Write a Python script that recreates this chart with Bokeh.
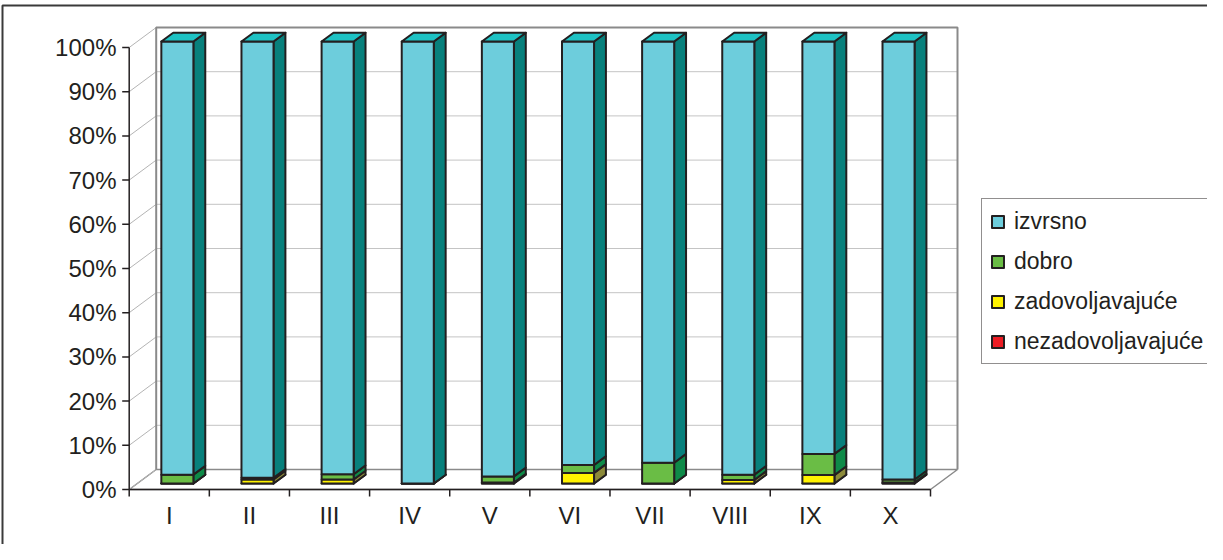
from bokeh.plotting import figure
from bokeh.models import Range1d, Legend, LegendItem
from bokeh.core.properties import value
from bokeh.embed import file_html
from bokeh.resources import INLINE

# ---------------- data ----------------
categories = ["I", "II", "III", "IV", "V", "VI", "VII", "VIII", "IX", "X"]
nezadovoljavajuce = [0.0, 0.0, 0.0, 0.0, 0.0, 0.0, 0.0, 0.0, 0.0, 0.0]
zadovoljavajuce = [0.0, 0.9, 0.9, 0.0, 0.2, 2.4, 0.0, 0.8, 1.9, 0.2]
dobro = [2.0, 0.4, 1.2, 0.0, 1.4, 1.8, 4.7, 1.2, 4.8, 0.7]
izvrsno = [98.0, 98.7, 97.9, 100.0, 98.4, 95.8, 95.3, 98.0, 93.3, 99.1]
y_tick_values = [0, 10, 20, 30, 40, 50, 60, 70, 80, 90, 100]
y_tick_labels = ["0%", "10%", "20%", "30%", "40%", "50%", "60%", "70%", "80%", "90%", "100%"]
series_names = ["nezadovoljavajuće", "zadovoljavajuće", "dobro", "izvrsno"]

# ---------------- styling / layout ----------------
FONT = "Liberation Sans"
TXT = "#231F20"
EDGE = "#231F20"
front_colors = ["#ED1C24", "#FFF200", "#6ABD45", "#6DCDDC"]
side_colors = ["#8E1218", "#8C8A3A", "#0E8A48", "#08807C"]
top_color = "#1EC2C4"

W, H = 1207, 544
# pixel geometry (page coords) of the front axes
X0_PX, UX_PX = 136.7, 80.13   # x=0 position, px per category
Y0_PX, UY_PX = 497.0, 4.42    # 0% position, px per percent

def px2x(px):
    return (px - X0_PX) / UX_PX

def px2y(py):
    return (Y0_PX - py) / UY_PX

def dpx_x(d):
    return d / UX_PX

def dpx_y(d):
    return d / UY_PX

n = len(categories)
WDX, WDY = dpx_x(27), dpx_y(20)      # depth of the 3-D box
FRONT_F, BACK_F = 0.30, 0.74          # bar depth position within box
GAP, BW = 0.30, 0.40                  # bar placement within category

p = figure(width=W, height=H, output_backend="svg", toolbar_location=None,
           x_range=Range1d(px2x(8), px2x(8 + W)),
           y_range=Range1d(px2y(8 + H), px2y(8)),
           x_axis_location=None, y_axis_location=None, min_border=0,
           background_fill_color="white", border_fill_color="white")
p.outline_line_color = None
p.grid.visible = False

# outer chart border (only top & left visible in the window)
p.line([px2x(10), px2x(10), px2x(1300)], [px2y(600), px2y(13), px2y(13)],
       line_color="#3a3a3a", line_width=2)

# walls and floor
p.patch([0, WDX, WDX, 0], [0, WDY, 100 + WDY, 100], fill_color="white", line_color=None)
p.patch([0, n, n + WDX, WDX], [0, 0, WDY, WDY], fill_color="white",
        line_color="#8a8a8a", line_width=1.5)
# gridlines on back wall and side wall
gx, gy = [], []
for v in y_tick_values[1:]:
    gx.append([WDX, n + WDX]); gy.append([v + WDY, v + WDY])
p.multi_line(gx, gy, line_color="#c4c4c4", line_width=1)
dx, dy = [], []
for v in y_tick_values:
    dx.append([0, WDX]); dy.append([v, v + WDY])
p.multi_line(dx, dy, line_color="#b4b4b4", line_width=1)
p.line([WDX, WDX, n + WDX, n + WDX], [WDY, 100 + WDY, 100 + WDY, WDY],
       line_color="#8a8a8a", line_width=2)

# front axes
p.line([0, 0], [0, 100], line_color=EDGE, line_width=1.5)
p.line([0, n], [0, 0], line_color=EDGE, line_width=1.5)
p.multi_line([[0, -dpx_x(7)] for _ in y_tick_values], [[v, v] for v in y_tick_values],
             line_color=EDGE, line_width=1.5)
p.multi_line([[i, i] for i in range(n + 1)], [[0, -dpx_y(7)] for _ in range(n + 1)],
             line_color=EDGE, line_width=1.5)
p.text(x=[-dpx_x(12.7)] * len(y_tick_values), y=y_tick_values, text=y_tick_labels,
       text_font=value(FONT), text_font_size="24px", text_color=TXT,
       text_align="right", text_baseline="middle")
p.text(x=[i + 0.5 for i in range(n)], y=[-dpx_y(26)] * n, text=categories,
       text_font=value(FONT), text_font_size="24px", text_color=TXT,
       text_align="center", text_baseline="middle")

# stacked 3-D bars
series = [nezadovoljavajuce, zadovoljavajuce, dobro, izvrsno]
ddx, ddy = (BACK_F - FRONT_F) * WDX, (BACK_F - FRONT_F) * WDY
fx, fy = FRONT_F * WDX, FRONT_F * WDY
bottoms = [0.0] * n
front_renderers = []
for s, vals in enumerate(series):
    lefts, rights, bots, tops = [], [], [], []
    sxs, sys = [], []
    for i in range(n):
        l = i + GAP + fx
        r = l + BW
        b = bottoms[i] + fy
        t = bottoms[i] + vals[i] + fy
        lefts.append(l); rights.append(r); bots.append(b); tops.append(t)
        sxs.append([r, r + ddx, r + ddx, r]); sys.append([b, b + ddy, t + ddy, t])
        bottoms[i] += vals[i]
    p.patches(sxs, sys, fill_color=side_colors[s], line_color=EDGE, line_width=2,
              line_join="round")
    rr = p.quad(left=lefts, right=rights, bottom=bots, top=tops,
                fill_color=front_colors[s], line_color=EDGE, line_width=2,
                line_join="round")
    front_renderers.append(rr)
    if s == len(series) - 1:
        txs = [[l, r, r + ddx, l + ddx] for l, r in zip(lefts, rights)]
        tys = [[t, t, t + ddy, t + ddy] for t in tops]
        p.patches(txs, tys, fill_color=top_color, line_color=EDGE, line_width=2,
                  line_join="round")

items = [LegendItem(label=series_names[s], renderers=[front_renderers[s]])
         for s in [3, 2, 1, 0]]
legend = Legend(items=items, location=(981, 180), orientation="vertical",
                label_text_font=FONT, label_text_font_size="23px",
                label_text_color=TXT, glyph_width=15, glyph_height=15,
                label_height=28, label_standoff=9, spacing=12, padding=8,
                margin=0, border_line_color=EDGE, border_line_width=1,
                background_fill_color="white", background_fill_alpha=1.0)
p.add_layout(legend)

open("out.html", "w").write(file_html(p, INLINE))
